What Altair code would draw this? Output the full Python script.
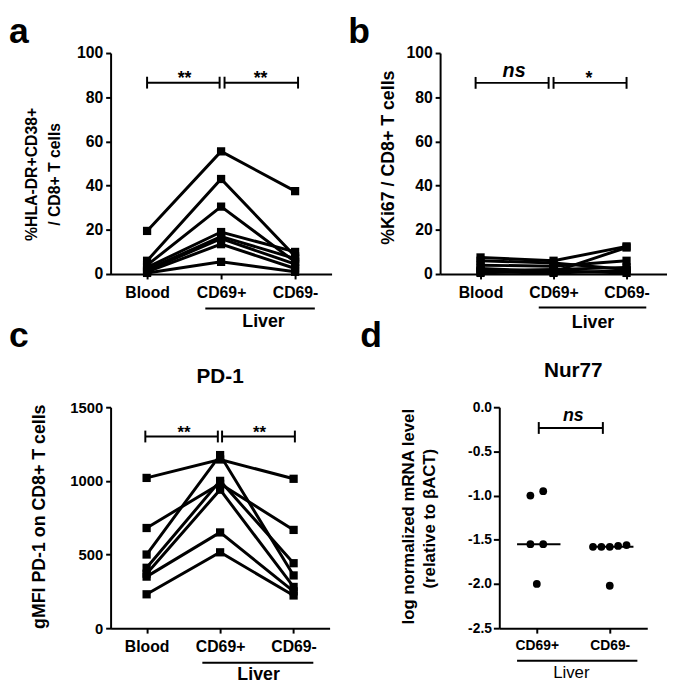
import altair as alt
import pandas as pd

FONT = "Liberation Sans"

# ---------------- data ----------------
sites = ["Blood", "CD69+", "CD69-"]
liver_sites = ["CD69+", "CD69-"]

# a: %HLA-DR+CD38+ / CD8+ T cells (one entry per donor)
a_blood = [19.5, 6.0, 4.0, 3.0, 2.0, 1.5, 1.0, 0.5]
a_cd69p = [55.5, 43.0, 30.5, 19.0, 17.0, 16.0, 13.5, 5.5]
a_cd69n = [37.5, 8.0, 5.5, 10.0, 7.0, 4.5, 2.5, 1.0]
a_sig = ["**", "**"]

# b: %Ki67 / CD8+ T cells
b_blood = [7.5, 6.0, 4.0, 2.5, 1.5, 1.0, 0.5]
b_cd69p = [6.0, 5.0, 3.5, 1.0, 2.0, 0.5, 1.5]
b_cd69n = [12.5, 2.0, 6.0, 12.0, 3.0, 1.5, 0.5]
b_sig = ["ns", "*"]

# c: gMFI PD-1 on CD8+ T cells
c_blood = [1020, 680, 500, 410, 370, 350, 230]
c_cd69p = [1145, 980, 1175, 1000, 940, 650, 515]
c_cd69n = [1014, 667, 358, 441, 280, 250, 222]
c_sig = ["**", "**"]

# d: Nur77 log normalized mRNA level
d_cd69p = [-1.00, -0.95, -1.55, -1.55, -2.00]
d_cd69n = [-1.56, -1.58, -1.58, -1.58, -1.57, -2.02]
d_sig = ["ns"]

ticks_pct = [0, 20, 40, 60, 80, 100]
ticks_mfi = [0, 500, 1000, 1500]
ticks_log = [0.0, -0.5, -1.0, -1.5, -2.0, -2.5]


# ---------------- helpers ----------------
def paired_df(*series):
    rows = []
    for donor, vals in enumerate(zip(*series)):
        for k, (site, v) in enumerate(zip(sites, vals)):
            rows.append({"donor": donor, "site": site, "order": k, "value": v})
    return pd.DataFrame(rows)


def make_x(cats, pad, size):
    def X(field):
        return alt.X(f"{field}:N",
                     scale=alt.Scale(type="point", domain=cats, padding=pad),
                     axis=alt.Axis(title=None, labelAngle=0, labelFontSize=size,
                                   labelFontWeight="bold", tickSize=5, labelPadding=6))
    return X


def make_y(domain, ticks, size, fmt=None, expr=None, tick=5, lpad=3):
    def Y(field, agg=None):
        kw = dict(title=None, values=ticks, labelFontSize=size, labelFontWeight="bold",
                  tickSize=tick, labelPadding=lpad)
        if fmt:
            kw["format"] = fmt
        if expr:
            kw["labelExpr"] = expr
        extra = {"aggregate": agg} if agg else {}
        return alt.Y(f"{field}:Q", scale=alt.Scale(domain=domain, nice=False, zero=False),
                     axis=alt.Axis(**kw), **extra)
    return Y


def bracket(c1, c2, yv, label, X, Y, off1, off2, dx, dy, size=18, italic=False):
    df = pd.DataFrame({"site": [c1], "site2": [c2], "y": [yv], "label": [label]})
    base = alt.Chart(df)
    line = base.mark_rule(color="black", strokeWidth=2, xOffset=off1, x2Offset=off2).encode(
        x=X("site"), x2="site2", y=Y("y"))
    cap1 = base.mark_rule(color="black", strokeWidth=2, xOffset=off1, yOffset=-6, y2Offset=6).encode(
        x=X("site"), y=Y("y"), y2="y")
    cap2 = base.mark_rule(color="black", strokeWidth=2, xOffset=off2, yOffset=-6, y2Offset=6).encode(
        x=X("site2"), y=Y("y"), y2="y")
    txt = base.mark_text(font=FONT, fontWeight="bold", fontStyle="italic" if italic else "normal",
                         fontSize=size, baseline="alphabetic", align="center", dx=dx, dy=dy,
                         color="black").encode(x=X("site"), y=Y("y"), text="label:N")
    return [line, cap1, cap2, txt]


def liver(X, h, off1, off2, ly, tdx, ty, size=18, weight="bold"):
    df = pd.DataFrame({"site": [liver_sites[0]], "site2": [liver_sites[1]], "label": ["Liver"]})
    base = alt.Chart(df)
    line = base.mark_rule(color="black", strokeWidth=2, xOffset=off1, x2Offset=off2).encode(
        x=X("site"), x2="site2", y=alt.value(h + ly))
    txt = base.mark_text(font=FONT, fontWeight=weight, fontSize=size, baseline="middle",
                         align="center", dx=tdx, color="black").encode(
        x=X("site"), y=alt.value(h + ty), text="label:N")
    return [line, txt]


def text_at(t, x, y, size, angle=0, weight="bold", align="center", baseline="middle"):
    return alt.Chart(pd.DataFrame({"t": [t]})).mark_text(
        font=FONT, fontSize=size, fontWeight=weight, angle=angle, align=align,
        baseline=baseline, color="black").encode(text="t:N", x=alt.value(x), y=alt.value(y))


def anchor(x, y):
    # invisible zero-length rule fixing the top-left corner of the whole figure
    return alt.Chart(pd.DataFrame({"t": [0]})).mark_rule(strokeOpacity=0, strokeWidth=1).encode(
        x=alt.value(x), x2=alt.value(x), y=alt.value(y), y2=alt.value(y))


def paired_panel(df, X, Y):
    base = alt.Chart(df)
    lines = base.mark_line(color="black", strokeWidth=3).encode(
        x=X("site"), y=Y("value"), detail="donor:N", order="order:Q")
    pts = base.mark_point(shape="square", filled=True, size=70, color="black", opacity=1).encode(
        x=X("site"), y=Y("value"))
    return [lines, pts]


H = 224
LAB = 36       # panel letter size
LAB_Y = -10    # panel letter baseline (top row)

# ---------------- panel a ----------------
Wa = 224
Xa = make_x(sites, 0.493, 16)
Ya = make_y([0, 100], ticks_pct, 16)
pa = alt.layer(
    anchor(-104, -40.5),
    *paired_panel(paired_df(a_blood, a_cd69p, a_cd69n), Xa, Ya),
    *bracket("Blood", "CD69+", 86.6, a_sig[0], Xa, Ya, 0, -1.5, 38, 1),
    *bracket("CD69+", "CD69-", 86.6, a_sig[1], Xa, Ya, 3.5, 3, 40, 1),
    *liver(Xa, H, -16, 20, 35, 43, 49),
    text_at("%HLA-DR+CD38+", -80, 123, 16, angle=270),
    text_at("/ CD8+ T cells", -56, 123, 16, angle=270),
    text_at("a", -103, LAB_Y, LAB, align="left", baseline="alphabetic"),
).properties(width=Wa, height=H)

# ---------------- panel b ----------------
Wb = 230
Xb = make_x(sites, 0.554, 16)
Yb = make_y([0, 100], ticks_pct, 16)
pb = alt.layer(
    *paired_panel(paired_df(b_blood, b_cd69p, b_cd69n), Xb, Yb),
    *bracket("Blood", "CD69+", 86.5, b_sig[0], Xb, Yb, -5, -5, 34, -6, size=20, italic=True),
    *bracket("CD69+", "CD69-", 86.5, b_sig[1], Xb, Yb, 0, 0, 36, 1),
    *liver(Xb, H, -15, 20, 34, 40, 50),
    text_at("%Ki67 / CD8+ T cells", -52, 106, 18, angle=270),
    text_at("b", -93, LAB_Y, LAB, align="left", baseline="alphabetic"),
).properties(width=Wb, height=H)

# ---------------- panel c ----------------
Wc = 222
Xc = make_x(sites, 0.49, 16)
Yc = make_y([0, 1500], ticks_mfi, 15, fmt="d")
pc = alt.layer(
    *paired_panel(paired_df(c_blood, c_cd69p, c_cd69n), Xc, Yc),
    *bracket("Blood", "CD69+", 1301, c_sig[0], Xc, Yc, -1.3, -2.3, 38, 2, size=17),
    *bracket("CD69+", "CD69-", 1301, c_sig[1], Xc, Yc, 2, 1.3, 40, 2, size=17),
    *liver(Xc, H, -18, 20, 35, 39, 48),
    text_at("PD-1", Wc / 2, -31, 21),
    text_at("gMFI PD-1 on CD8+ T cells", -71, 111, 18, angle=270),
    text_at("c", -103, -61, LAB, align="left", baseline="alphabetic"),
).properties(width=Wc, height=H)

# ---------------- panel d ----------------
def swarm_offsets(vals, tol=0.1, max_width=34, max_gap=13):
    order = sorted(range(len(vals)), key=lambda i: vals[i])
    clusters = []
    for i in order:
        if clusters and abs(vals[i] - vals[clusters[-1][-1]]) < tol:
            clusters[-1].append(i)
        else:
            clusters.append([i])
    offs = [0.0] * len(vals)
    for cl in clusters:
        n = len(cl)
        gap = min(max_gap, max_width / (n - 1)) if n > 1 else 0
        for k, i in enumerate(cl):
            offs[i] = (k - (n - 1) / 2) * gap
    return offs


d_rows = []
for site, vals in zip(liver_sites, [d_cd69p, d_cd69n]):
    for v, o in zip(vals, swarm_offsets(vals)):
        d_rows.append({"site": site, "value": v, "jit": o})
ddf = pd.DataFrame(d_rows)

Wd = 150
Xd = make_x(liver_sites, 0.514, 14)
Yd = make_y([-2.5, 0], ticks_log, 14,
            expr="replace(format(datum.value, '.1f'), '\u2212', '-')", tick=6, lpad=2)
dbase = alt.Chart(ddf)
dots = dbase.mark_circle(size=62, color="black", opacity=1).encode(
    x=Xd("site"), y=Yd("value"),
    xOffset=alt.XOffset("jit:Q", scale=alt.Scale(domain=[-20, 20], range=[-20, 20])))
med = dbase.mark_tick(color="black", thickness=2, size=44, xOffset=2).encode(
    x=Xd("site"), y=Yd("value", agg="median"))
pd_ = alt.layer(
    dots, med,
    *bracket("CD69+", "CD69-", -0.235, d_sig[0], Xd, Yd, 2, -7, 37, -7, size=18, italic=True),
    *liver(Xd, H, -20, 28, 33, 35, 46, size=17, weight="normal"),
    text_at("Nur77", Wd / 2, -37, 21),
    text_at("log normalized mRNA level", -91, 111, 17, angle=270),
    text_at("(relative to \u03b2ACT)", -70, 113, 17, angle=270),
    text_at("d", -141, -61, LAB, align="left", baseline="alphabetic"),
).properties(width=Wd, height=H)

row1 = alt.hconcat(pa, pb, spacing=110, bounds="flush")
row2 = alt.hconcat(pc, pd_, spacing=172, bounds="flush")

# nested rows count with zero height in a flush layout, so spacing = plot height + gap
chart = alt.vconcat(row1, row2, spacing=H + 135, bounds="flush").properties(
    padding=0, background="white"
).configure_view(stroke=None).configure_axis(
    domainColor="black", domainWidth=2, tickColor="black", tickWidth=2,
    labelColor="black", labelFont=FONT, grid=False, titleFont=FONT
).configure_text(font=FONT)

chart.save("out.html", embed_options={"renderer": "svg", "actions": False})
